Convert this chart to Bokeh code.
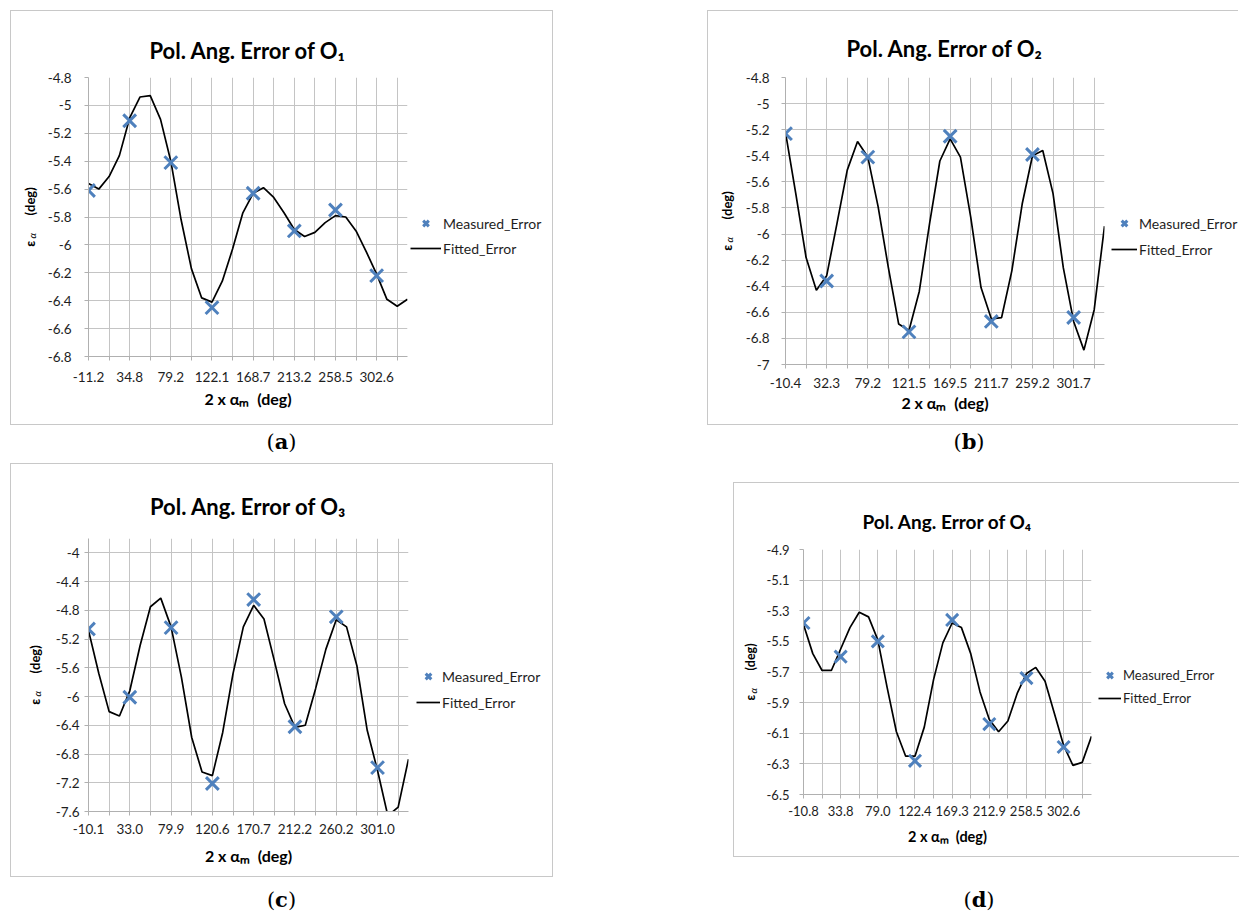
import math
from bokeh.plotting import figure
from bokeh.models import FixedTicker, Legend, LegendItem, Div, Spacer, Range1d, Title
from bokeh.layouts import row, column
from bokeh.embed import file_html
from bokeh.resources import INLINE

# ---------------- data ----------------
CATEGORY_INDEX = list(range(32))          # fitted curve: 32 categories
MEASURED_INDEX = list(range(0, 32, 4))    # measurements: every 4th category

XLABELS_O1 = ["-11.2", "34.8", "79.2", "122.1", "168.7", "213.2", "258.5", "302.6"]
XLABELS_O2 = ["-10.4", "32.3", "79.2", "121.5", "169.5", "211.7", "259.2", "301.7"]
XLABELS_O3 = ["-10.1", "33.0", "79.9", "120.6", "170.7", "212.2", "260.2", "301.0"]
XLABELS_O4 = ["-10.8", "33.8", "79.0", "122.4", "169.3", "212.9", "258.5", "302.6"]

YTICKS_O1 = ["-4.8", "-5", "-5.2", "-5.4", "-5.6", "-5.8", "-6", "-6.2", "-6.4", "-6.6", "-6.8"]
YTICKS_O2 = ["-4.8", "-5", "-5.2", "-5.4", "-5.6", "-5.8", "-6", "-6.2", "-6.4", "-6.6", "-6.8", "-7"]
YTICKS_O3 = ["-4", "-4.4", "-4.8", "-5.2", "-5.6", "-6", "-6.4", "-6.8", "-7.2", "-7.6"]
YTICKS_O4 = ["-4.9", "-5.1", "-5.3", "-5.5", "-5.7", "-5.9", "-6.1", "-6.3", "-6.5"]

YRANGE_O1 = (-6.8, -4.8)
YRANGE_O2 = (-7.0, -4.8)
YRANGE_O3 = (-7.6, -3.8)
YRANGE_O4 = (-6.5, -4.9)

MEASURED_O1 = [-5.61, -5.11, -5.41, -6.45, -5.63, -5.90, -5.75, -6.22]
FITTED_O1 = [-5.56, -5.60, -5.51, -5.36, -5.09, -4.94, -4.93, -5.10,
             -5.40, -5.82, -6.17, -6.38, -6.41, -6.26, -6.03, -5.77,
             -5.63, -5.59, -5.66, -5.77, -5.89, -5.94, -5.91, -5.84,
             -5.79, -5.80, -5.90, -6.05, -6.21, -6.39, -6.44, -6.39]

MEASURED_O2 = [-5.23, -6.36, -5.41, -6.75, -5.25, -6.67, -5.39, -6.64]
FITTED_O2 = [-5.22, -5.69, -6.18, -6.43, -6.32, -5.92, -5.51, -5.29,
             -5.41, -5.79, -6.26, -6.69, -6.74, -6.44, -5.92, -5.44,
             -5.27, -5.41, -5.87, -6.41, -6.65, -6.64, -6.28, -5.77,
             -5.40, -5.36, -5.69, -6.26, -6.67, -6.89, -6.58, -5.94]

MEASURED_O3 = [-5.06, -6.01, -5.04, -7.21, -4.65, -6.42, -4.89, -6.99]
FITTED_O3 = [-5.08, -5.68, -6.21, -6.27, -5.92, -5.29, -4.75, -4.63,
             -5.03, -5.73, -6.57, -7.05, -7.10, -6.50, -5.68, -5.03,
             -4.73, -4.92, -5.50, -6.10, -6.43, -6.40, -5.89, -5.34,
             -4.93, -5.03, -5.57, -6.47, -7.03, -7.66, -7.54, -6.87]

MEASURED_O4 = [-5.38, -5.60, -5.50, -6.28, -5.36, -6.04, -5.74, -6.19]
FITTED_O4 = [-5.39, -5.58, -5.69, -5.69, -5.55, -5.41, -5.31, -5.34,
             -5.49, -5.80, -6.09, -6.25, -6.25, -6.06, -5.75, -5.51,
             -5.38, -5.41, -5.58, -5.83, -6.01, -6.09, -6.02, -5.84,
             -5.71, -5.67, -5.76, -5.97, -6.18, -6.31, -6.29, -6.12]

# ---------------- style ----------------
GRID = "#c4c4c4"
AXIS = "#b0b0b0"
BOX = "#c8c8c8"
BLUE = "#4F81BD"
TXT = "#1e1e1e"
FONT = "Lato"
NB = "\u00a0"


def panel(title, xlabels, yticks, yrange, measured, fitted, L):
    p = figure(frame_width=L["fw"], frame_height=L["fh"],
               min_border_left=L["ml"], min_border_right=L["mr"],
               min_border_top=L["mt"], min_border_bottom=L["mb"],
               x_range=Range1d(0, 31), y_range=Range1d(*yrange),
               output_backend="svg", toolbar_location=None,
               background_fill_color=None, border_fill_color=None,
               outline_line_color=None)
    p.styles = {"box-shadow": L["shadow"]}

    p.title.text = title
    p.title.align = "center"
    p.title.text_font = FONT
    p.title.text_font_size = L["title_fs"]
    p.title.text_font_style = "bold"
    p.title.text_color = "black"
    p.title.standoff = L["title_so"]

    xt = list(range(0, 32, 2))
    p.xaxis.ticker = FixedTicker(ticks=xt)
    p.xaxis.major_label_overrides = {t: (xlabels[t // 4] if t % 4 == 0 else "") for t in xt}
    yv = [float(s) for s in yticks]
    p.yaxis.ticker = FixedTicker(ticks=yv)
    p.yaxis.major_label_overrides = {v: s for v, s in zip(yv, yticks)}

    for ax in (p.xaxis[0], p.yaxis[0]):
        ax.axis_line_color = AXIS
        ax.major_tick_line_color = AXIS
        ax.major_tick_in = 0
        ax.major_tick_out = 4
        ax.minor_tick_line_color = None
        ax.major_label_text_font = FONT
        ax.major_label_text_font_size = L["tick_fs"]
        ax.major_label_text_color = TXT
        ax.axis_label_text_font = FONT
        ax.axis_label_text_font_style = "bold"
        ax.axis_label_text_color = "black"
    p.xaxis.major_label_standoff = L["xl_so"]
    p.yaxis.major_label_standoff = L["yl_so"]

    p.xaxis.axis_label = "2 x αₘ" + NB + NB + "(deg)"
    p.xaxis.axis_label_text_font_size = L["xlab_fs"]
    p.xaxis.axis_label_standoff = L["xt_so"]

    p.yaxis.axis_label = "ε" + NB * 8 + "(deg)"
    p.yaxis.axis_label_text_font_size = L["ylab_fs"]
    p.yaxis.axis_label_standoff = L["yt_so"]

    # subscript alpha of the y-axis title
    sub = Title(text="α", align="left", offset=L["fh"] / 2.0 - 21.5,
                standoff=L["sub_so"], text_font=FONT, text_font_size="10px",
                text_font_style="italic", text_color="black")
    p.add_layout(sub, "left")

    p.xgrid.grid_line_color = GRID
    p.ygrid.grid_line_color = GRID

    r_fit = p.line(CATEGORY_INDEX, fitted, line_color="black", line_width=1.7)
    r_meas = p.scatter(MEASURED_INDEX, measured, marker="x", size=L["msize"],
                       line_color=BLUE, line_width=3)

    leg = Legend(items=[LegendItem(label="Measured_Error", renderers=[r_meas]),
                        LegendItem(label="Fitted_Error", renderers=[r_fit])],
                 location=(L["lx"], L["ly"]), padding=0, margin=0, spacing=L["lsp"],
                 glyph_width=L["lgw"], glyph_height=20, label_height=20, label_standoff=2,
                 border_line_color=None, background_fill_alpha=0,
                 label_text_font=FONT, label_text_font_size=L["leg_fs"],
                 label_text_color=TXT)
    p.add_layout(leg, "right")
    return p


FULL = "inset 0 0 0 1px " + BOX
NORIGHT = "inset 1px 1px 0 0 %s, inset 0 -1px 0 0 %s" % (BOX, BOX)

L_A = dict(ml=78, fw=319, mr=146, mt=67, fh=279, mb=69, shadow=FULL,
           title_fs="22px", title_so=28, tick_fs="13.5px", xl_so=11, xt_so=4, yl_so=13,
           xlab_fs="16px", ylab_fs="13px", yt_so=7, sub_so=-38,
           leg_fs="14px", lx=3, ly=98, lgw=31, lsp=5, msize=18)
L_B = dict(ml=78, fw=319, mr=134, mt=67, fh=287, mb=61, shadow=NORIGHT,
           title_fs="22px", title_so=32, tick_fs="13.5px", xl_so=9, xt_so=2, yl_so=12,
           xlab_fs="16px", ylab_fs="13px", yt_so=8, sub_so=-38,
           leg_fs="14px", lx=7, ly=105, lgw=26, lsp=6, msize=18)
L_C = dict(ml=76, fw=320, mr=147, mt=75, fh=273, mb=66, shadow=FULL,
           title_fs="22px", title_so=38, tick_fs="13.5px", xl_so=8, xt_so=9, yl_so=5,
           xlab_fs="16px", ylab_fs="13px", yt_so=10, sub_so=-38,
           leg_fs="14px", lx=8, ly=99, lgw=24, lsp=6, msize=18)
L_D = dict(ml=70, fw=288, mr=134, mt=67, fh=245, mb=63, shadow=FULL,
           title_fs="19px", title_so=33, tick_fs="13px", xl_so=7, xt_so=9, yl_so=10,
           xlab_fs="14.5px", ylab_fs="12.5px", yt_so=6, sub_so=-38,
           leg_fs="13px", lx=7, ly=86, lgw=23, lsp=3, msize=17)

p_a = panel("Pol. Ang. Error of O₁", XLABELS_O1, YTICKS_O1, YRANGE_O1, MEASURED_O1, FITTED_O1, L_A)
p_b = panel("Pol. Ang. Error of O₂", XLABELS_O2, YTICKS_O2, YRANGE_O2, MEASURED_O2, FITTED_O2, L_B)
p_c = panel("Pol. Ang. Error of O₃", XLABELS_O3, YTICKS_O3, YRANGE_O3, MEASURED_O3, FITTED_O3, L_C)
p_d = panel("Pol. Ang. Error of O₄", XLABELS_O4, YTICKS_O4, YRANGE_O4, MEASURED_O4, FITTED_O4, L_D)


def caption(letter, width, height, pad_top, inner_w, inner_left=0):
    html = ('<div style="margin-left:%dpx;width:%dpx;text-align:center;'
            'font-family:\'DejaVu Serif\',serif;font-size:21px;line-height:20px;'
            'padding-top:%dpx;color:#000">(<b>%s</b>)</div>' % (inner_left, inner_w, pad_top, letter))
    return Div(text=html, width=width, height=height, margin=0)


cap_a = caption("a", 543, 38, 7, 543)
cap_c = caption("c", 543, 34, 13, 543)
cap_b = caption("b", 531, 38, 7, 524)
cap_d = caption("d", 531, 54, 33, 492, 26)

left = column(p_a, cap_a, p_c, cap_c, spacing=0)
right = column(p_b, cap_b, Spacer(width=531, height=19),
               row(Spacer(width=26, height=375), p_d, spacing=0), cap_d, spacing=0)
layout = column(Spacer(width=10, height=10),
                row(Spacer(width=10, height=10), left, Spacer(width=154, height=10), right, spacing=0),
                spacing=0)

open("out.html", "w").write(file_html(layout, INLINE))
